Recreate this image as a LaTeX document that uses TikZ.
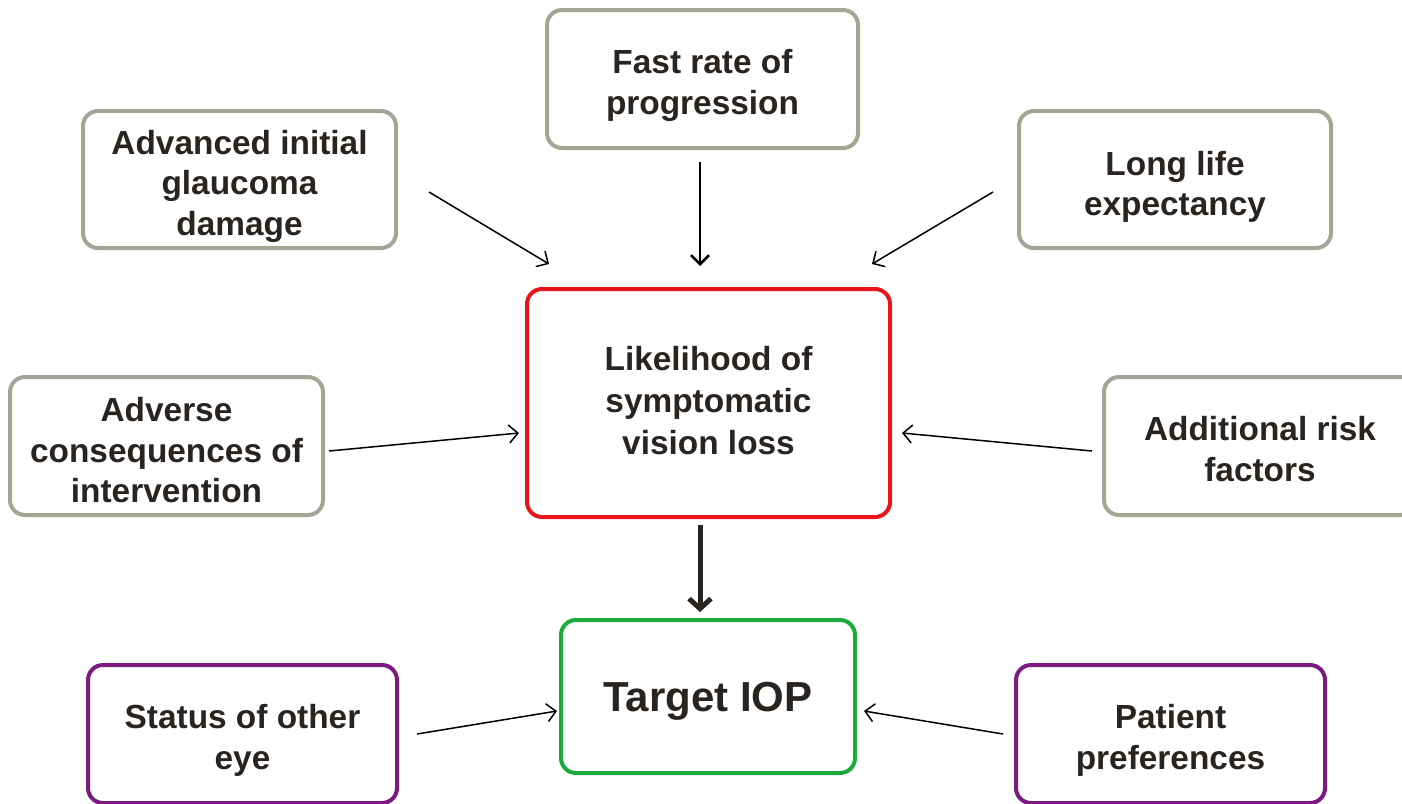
\documentclass[tikz,border=0pt]{standalone}
\usepackage{fontspec}
\setmainfont{Liberation Sans}
\usetikzlibrary{arrows.meta,calc}
\definecolor{txt}{HTML}{2A2420}
\definecolor{grayb}{HTML}{A2A795}
\definecolor{redb}{HTML}{E8141B}
\definecolor{greenb}{HTML}{1DAA3A}
\definecolor{purpleb}{HTML}{7B1A80}
\tikzset{
  box/.style={draw=grayb, line width=4pt, rounded corners=15pt, fill=white,
    align=center, text=txt, inner sep=0pt, text depth=0pt,
    font=\fontsize{33.4}{40.5}\selectfont\bfseries},
  two/.style={text height=70.5pt+#1},
  two/.default=0pt,
  three/.style={text height=111pt+#1},
  three/.default=0pt,
  purplebox/.style={box, draw=purpleb},
  arr/.style={draw=black, line width=1.5pt, -{Straight Barb[length=9pt,width=18pt,line width=1.5pt]}},
  medarr/.style={draw=black, line width=2.5pt, -{Straight Barb[length=9pt,width=18pt,line width=2.5pt]}},
  thickarr/.style={draw=txt, line width=5pt, -{Straight Barb[length=10pt,width=22pt,line width=5pt]}},
}
\begin{document}
\begin{tikzpicture}[x=1pt,y=-1pt]
\useasboundingbox (0,0) rectangle (1402,803);
\begin{scope}
\clip (0,0) rectangle (1402,803);
\node[box, two, minimum width=311pt, minimum height=138pt] (fast) at (702.5,79) {Fast rate of\\progression};
\node[box, three, minimum width=313pt, minimum height=137pt] (adv) at (239.5,179.5) {Advanced initial\\glaucoma\\damage};
\node[box, two=2pt, minimum width=312pt, minimum height=137pt] (long) at (1175,179.5) {Long life\\expectancy};
\node[box, draw=redb, minimum width=363pt, minimum height=228pt, text height=102pt, font=\fontsize{33.4}{42}\selectfont\bfseries] (lik) at (708.5,403) {Likelihood of\\symptomatic\\vision loss};
\node[box, three=2pt, minimum width=313pt, minimum height=138pt] (advc) at (166.5,446) {Adverse\\consequences of\\intervention};
\node[box, two, minimum width=312pt, minimum height=138pt] (addr) at (1260,446) {Additional risk\\factors};
\node[box, draw=greenb, minimum width=294pt, minimum height=153pt, text height=30pt, font=\fontsize{42}{50}\selectfont\bfseries] (tgt) at (708,696.5) {Target IOP};
\node[purplebox, two, minimum width=309pt, minimum height=138pt] (stat) at (242.5,734) {Status of other\\eye};
\node[purplebox, two, minimum width=309pt, minimum height=138pt] (pat) at (1170.5,734) {Patient\\preferences};
\end{scope}
% connectors
\draw[arr] ($(adv.east)+(31,12.5)$) -- ($(lik.north west)+(24,-23)$);
\draw[medarr] ($(fast.south)+(-2.5,12)$) -- ($(lik.north)+(-8.5,-21)$);
\draw[arr] ($(long.west)+(-24,12.5)$) -- ($(lik.north east)+(-20,-23)$);
\draw[arr] ($(advc.east)+(4,5)$) -- ($(lik.west)+(-6,30)$);
\draw[arr] ($(addr.west)+(-10,5)$) -- ($(lik.east)+(10,30)$);
\draw[thickarr] ($(lik.south)+(-8.5,6)$) -- ($(tgt.north)+(-8,-6)$);
\draw[arr] ($(stat.east)+(18,0)$) -- ($(tgt.west)+(-2,14.5)$);
\draw[arr] ($(pat.west)+(-11,0)$) -- ($(tgt.east)+(7,14.5)$);
\end{tikzpicture}
\end{document}
